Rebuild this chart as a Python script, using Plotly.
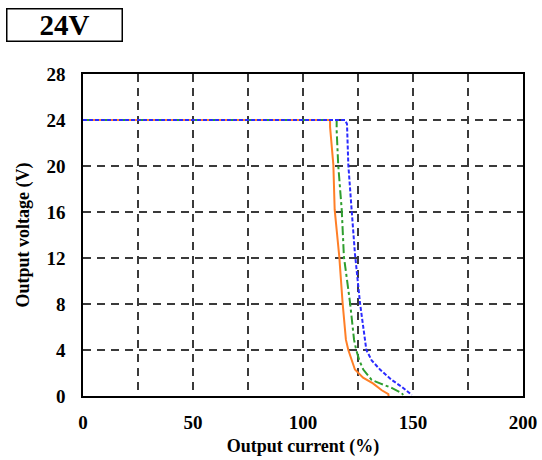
import plotly.graph_objects as go

# Output current (%) vs output voltage (V)
orange_x = [0, 112.3, 112.3, 113.8, 114.4, 116.5, 118.0, 119.5, 120.6, 122.1, 123.6, 127.3, 131.8, 135.8, 138.8, 138.9]
orange_y = [24, 24, 23.4, 20.1, 16.2, 12.1, 8.1, 4.9, 4.0, 3.1, 2.3, 1.6, 1.1, 0.5, 0.17, 0]

green_x = [0, 115.3, 115.3, 116.0, 117.6, 118.6, 121.4, 123.2, 124.2, 125.6, 127.4, 131.2, 135.0, 140.3, 144.9, 145.5]
green_y = [24, 24, 23.1, 20.1, 16.2, 12.1, 8.1, 4.9, 4.0, 3.1, 2.3, 1.4, 1.1, 0.7, 0.26, 0.09]

blue_x = [0, 119.1, 120.0, 120.6, 122.1, 123.6, 125.9, 128.2, 128.8, 131.2, 135.0, 140.3, 144.9, 149.4]
blue_y = [24, 24, 23.65, 20.1, 16.2, 12.4, 8.1, 4.9, 4.0, 3.1, 2.3, 1.4, 0.8, 0.09]

x_tickvals = [0, 25, 50, 75, 100, 125, 150, 175, 200]
x_ticktext = ["0", "", "50", "", "100", "", "150", "", "200"]
y_tickvals = [0, 4, 8, 12, 16, 20, 24, 28]

FONT = "Liberation Serif"

fig = go.Figure()
fig.add_trace(go.Scatter(x=orange_x, y=orange_y, mode="lines",
                         line=dict(color="#FF7F27", width=2, dash="solid")))
fig.add_trace(go.Scatter(x=green_x, y=green_y, mode="lines",
                         line=dict(color="#2E9E2E", width=2, dash="dashdot")))
fig.add_trace(go.Scatter(x=blue_x, y=blue_y, mode="lines",
                         line=dict(color="#2B2BFF", width=2, dash="4px,2px")))

axis_common = dict(
    showline=True, linecolor="black", linewidth=1.5, mirror=True,
    showgrid=True, gridcolor="#3a3a3a", gridwidth=1.5, griddash="8px,6px",
    zeroline=False, ticks="", automargin=False,
    tickfont=dict(family=FONT, size=19, color="black", weight="bold"),
)

fig.update_layout(
    width=542, height=460,
    margin=dict(l=83, r=19, t=74, b=64),
    plot_bgcolor="white", paper_bgcolor="white",
    showlegend=False,
    font=dict(family=FONT, color="black"),
    xaxis=dict(range=[0, 200], tickvals=x_tickvals, ticktext=x_ticktext,
               ticklabelstandoff=8,
               title=dict(text="Output current (%)",
                          font=dict(family=FONT, size=18, weight="bold"), standoff=8),
               **axis_common),
    yaxis=dict(range=[0, 28], tickvals=y_tickvals,
               ticklabelstandoff=12,
               title=dict(text="Output voltage (V)",
                          font=dict(family=FONT, size=18, weight="bold"), standoff=12),
               **axis_common),
)

fig.add_annotation(
    text="24V", xref="paper", yref="paper",
    x=(64 - 83) / 440, y=(396 - 24.5) / 322, xanchor="center", yanchor="middle",
    align="center", valign="middle",
    showarrow=False, font=dict(family=FONT, size=29, color="black", weight="bold"),
    width=112, height=29, bordercolor="black", borderwidth=1.5, borderpad=1,
    bgcolor="white",
)

fig.write_html("out.html")
